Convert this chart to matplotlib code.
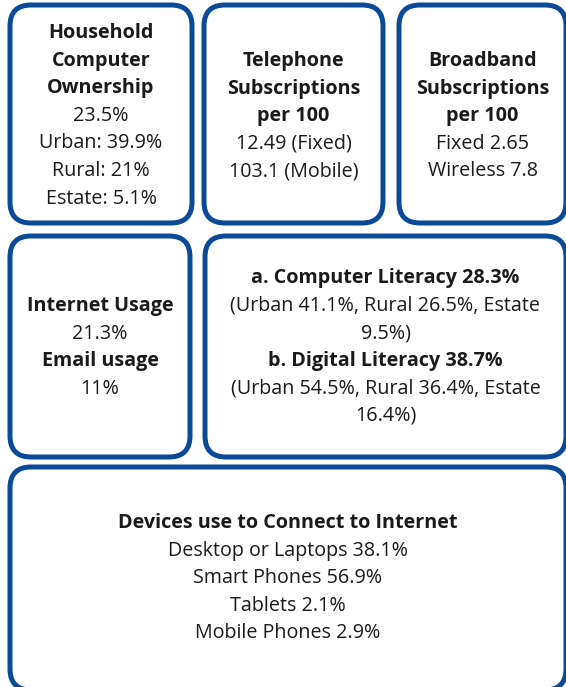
import matplotlib.pyplot as plt
from matplotlib.patches import FancyBboxPatch

# Box contents: (bold?, text) lines
household = [(True, 'Household'), (True, 'Computer'), (True, 'Ownership'),
             (False, '23.5%'), (False, 'Urban: 39.9%'), (False, 'Rural: 21%'),
             (False, 'Estate: 5.1%')]
telephone = [(True, 'Telephone'), (True, 'Subscriptions'), (True, 'per 100'),
             (False, '12.49 (Fixed)'), (False, '103.1 (Mobile)')]
broadband = [(True, 'Broadband'), (True, 'Subscriptions'), (True, 'per 100'),
             (False, 'Fixed 2.65'), (False, 'Wireless 7.8')]
internet = [(True, 'Internet Usage'), (False, '21.3%'),
            (True, 'Email usage'), (False, '11%')]
literacy = [(True, 'a. Computer Literacy 28.3%'),
            (False, '(Urban 41.1%, Rural 26.5%, Estate'), (False, '9.5%)'),
            (True, 'b. Digital Literacy 38.7%'),
            (False, '(Urban 54.5%, Rural 36.4%, Estate'), (False, '16.4%)')]
devices = [(True, 'Devices use to Connect to Internet'),
           (False, 'Desktop or Laptops 38.1%'), (False, 'Smart Phones 56.9%'),
           (False, 'Tablets 2.1%'), (False, 'Mobile Phones 2.9%')]

# box layout in pixels: x0, y0, x1, y1, first line y
boxes = [
    (household, (10, 5, 192, 223, 33)),
    (telephone, (204, 5, 383, 223, 61)),
    (broadband, (399, 5, 566, 223, 61)),
    (internet, (10, 236, 190, 457, 306)),
    (literacy, (205, 236, 566, 457, 278)),
    (devices, (10, 467, 566, 690, 523)),
]

blue = '#0B4A96'
step = 27.6

fig = plt.figure(figsize=(5.66, 6.87), dpi=100)
ax = fig.add_axes([0, 0, 1, 1])
ax.set_xlim(0, 566)
ax.set_ylim(687, 0)
ax.axis('off')

for lines, (x0, y0, x1, y1, ytop) in boxes:
    pad = 21
    box = FancyBboxPatch((x0 + pad, y0 + pad), x1 - x0 - 2 * pad, y1 - y0 - 2 * pad,
                         boxstyle=f'round,pad={pad}', fc='white', ec=blue, lw=3.6)
    ax.add_patch(box)
    cx = (x0 + x1) / 2
    for i, (bold, s) in enumerate(lines):
        ax.text(cx, ytop + i * step, s, ha='center', va='center',
                fontsize=14.2, family='Open Sans', color='#1a1a1a',
                fontweight='bold' if bold else 'normal')

fig.savefig('out.png', dpi=100, facecolor='white')
